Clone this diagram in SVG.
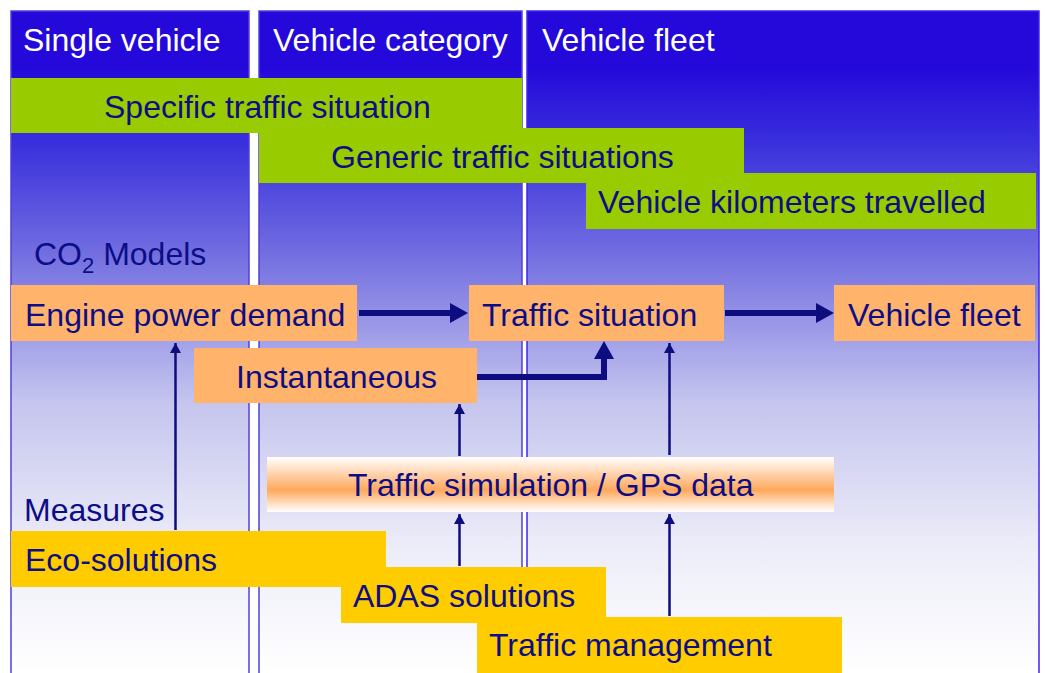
<svg xmlns="http://www.w3.org/2000/svg" width="1045" height="673" viewBox="0 0 1045 673">
<defs>
<linearGradient id="colg" gradientUnits="userSpaceOnUse" x1="0" y1="11" x2="0" y2="673">
<stop offset="0" stop-color="#2409DA"/>
<stop offset="0.085" stop-color="#2409DA"/>
<stop offset="0.2" stop-color="#3A30DC"/>
<stop offset="0.361" stop-color="#706CE0"/>
<stop offset="0.588" stop-color="#C4C4EE"/>
<stop offset="0.814" stop-color="#EDEDF9"/>
<stop offset="1" stop-color="#FFFFFF"/>
</linearGradient>
<linearGradient id="simg" x1="0" y1="0" x2="0" y2="1">
<stop offset="0" stop-color="#FFFFFF"/>
<stop offset="0.6" stop-color="#FFA85C"/>
<stop offset="1" stop-color="#FFFFFF"/>
</linearGradient>
<marker id="thin" viewBox="0 0 10 11" refX="10" refY="5.5" markerWidth="10" markerHeight="11" markerUnits="userSpaceOnUse" orient="auto">
<path d="M0,0 L10,5.5 L0,11 Z" fill="#0D0D80"/>
</marker>
</defs>
<style>
.col{fill:url(#colg);stroke:#5040DC;stroke-width:1.5}
.hdr{font-family:"Liberation Sans",Arial,sans-serif;font-size:32px;fill:#FFFFFF}
.t{font-family:"Liberation Sans",Arial,sans-serif;font-size:32px;fill:#0D0D85}
.green{fill:#99CC00}
.orange{fill:#FFB36B}
.yellow{fill:#FFCC00}
.thick{stroke:#0D0D80;stroke-width:6;fill:none}
.thin{stroke:#0D0D80;stroke-width:2.5;fill:none;marker-end:url(#thin)}
.head{fill:#0D0D80}
</style>
<rect width="1045" height="673" fill="#FFFFFF"/>
<g id="col-single">
<rect class="col" x="11" y="11" width="238" height="664"/>
<text class="hdr" x="23" y="51">Single vehicle</text>
</g>
<g id="col-category">
<rect class="col" x="259" y="11" width="263" height="664"/>
<text class="hdr" x="273" y="51">Vehicle category</text>
</g>
<g id="col-fleet">
<rect class="col" x="527" y="11" width="512" height="664" style="stroke:#4024F0"/>
<text class="hdr" x="542" y="51">Vehicle fleet</text>
</g>
<g id="specific">
<rect class="green" x="11" y="78" width="511" height="55"/>
<text class="t" x="104" y="118">Specific traffic situation</text>
</g>
<g id="generic">
<rect class="green" x="259" y="128" width="485" height="55"/>
<text class="t" x="331" y="168">Generic traffic situations</text>
</g>
<g id="vkt">
<rect class="green" x="586" y="173" width="450" height="56"/>
<text class="t" x="598" y="213">Vehicle kilometers travelled</text>
</g>
<g id="co2">
<text class="t" x="34" y="265">CO<tspan font-size="22" dy="8">2</tspan><tspan dy="-8"> Models</tspan></text>
</g>
<g id="engine">
<rect class="orange" x="11" y="285" width="346" height="56"/>
<text class="t" x="25" y="326">Engine power demand</text>
</g>
<g id="traffic-situation">
<rect class="orange" x="469" y="285" width="255" height="56"/>
<text class="t" x="482" y="326">Traffic situation</text>
</g>
<g id="vehicle-fleet">
<rect class="orange" x="834" y="285" width="201" height="56"/>
<text class="t" x="848" y="326">Vehicle fleet</text>
</g>
<g id="instantaneous">
<rect class="orange" x="194" y="348" width="283" height="55"/>
<text class="t" x="236" y="388">Instantaneous</text>
</g>
<g id="sim">
<rect x="267" y="457" width="567" height="55" fill="url(#simg)"/>
<text class="t" x="348" y="496">Traffic simulation / GPS data</text>
</g>
<g id="measures">
<text class="t" x="24" y="521">Measures</text>
</g>
<g id="eco">
<rect class="yellow" x="11" y="531" width="375" height="56"/>
<text class="t" x="25" y="571">Eco-solutions</text>
</g>
<g id="adas">
<rect class="yellow" x="341" y="567" width="265" height="56"/>
<text class="t" x="353" y="607">ADAS solutions</text>
</g>
<g id="tm">
<rect class="yellow" x="477" y="617" width="365" height="56"/>
<text class="t" x="489" y="656">Traffic management</text>
</g>
<g id="connectors">
<line class="thick" x1="359" y1="313" x2="451" y2="313"/>
<polygon class="head" points="450,303 468,313 450,323"/>
<line class="thick" x1="725" y1="313" x2="817" y2="313"/>
<polygon class="head" points="816,303 834,313 816,323"/>
<path class="thick" d="M477,377 H604 V358"/>
<polygon class="head" points="594,359 614,359 604,341"/>
<line class="thin" x1="175.5" y1="530" x2="175.5" y2="343"/>
<line class="thin" x1="459.5" y1="456" x2="459.5" y2="404"/>
<line class="thin" x1="669.5" y1="455" x2="669.5" y2="343"/>
<line class="thin" x1="459.5" y1="566" x2="459.5" y2="514"/>
<line class="thin" x1="669.5" y1="616" x2="669.5" y2="514"/>
</g>
</svg>
